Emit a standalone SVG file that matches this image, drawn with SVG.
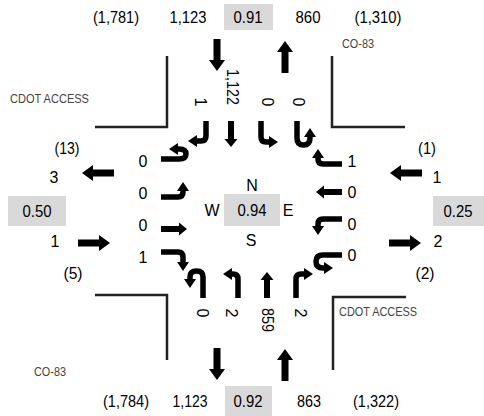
<svg xmlns="http://www.w3.org/2000/svg" width="484" height="416" viewBox="0 0 484 416">
<style>
text{font-family:"Liberation Sans",Arial,sans-serif;fill:#000}
.n{font-size:16px;text-anchor:middle}
.lbl{font-size:12px;fill:#444}
.box{fill:#d9d9d9}
.corner{fill:none;stroke:#222;stroke-width:2.5}
.turn{fill:none;stroke:#000;stroke-width:5.5;marker-end:url(#ah)}
.rot{font-size:16px;text-anchor:middle;dominant-baseline:central}
</style>
<defs>
<marker id="ah" markerUnits="userSpaceOnUse" markerWidth="9" markerHeight="12" viewBox="0 0 9 12" refX="1" refY="6" orient="auto"><path d="M0,0 L9,6 L0,12 Z" fill="#000"/></marker>
<path id="big" d="M0,-3.5 H21 V-8 L32,0 L21,8 V3.5 H0 Z" fill="#000"/>
<path id="sm" d="M0,-3 H18 V-6.5 L26,0 L18,6.5 V3 H0 Z" fill="#000"/>
</defs>

<g id="corners">
<path class="corner" d="M167,56 V127 H95"/>
<path class="corner" d="M332,56 V127 H405"/>
<path class="corner" d="M95,295 H167 V360"/>
<path class="corner" d="M333,370 V297 H406"/>
</g>

<g id="street-labels">
<text class="lbl" x="10" y="103" textLength="79" lengthAdjust="spacingAndGlyphs">CDOT ACCESS</text>
<text class="lbl" x="342" y="48" textLength="32" lengthAdjust="spacingAndGlyphs">CO-83</text>
<text class="lbl" x="339" y="316" textLength="78" lengthAdjust="spacingAndGlyphs">CDOT ACCESS</text>
<text class="lbl" x="34" y="376" textLength="32" lengthAdjust="spacingAndGlyphs">CO-83</text>
</g>

<g id="node-north">
<rect class="box" x="224" y="4" width="49" height="26"/>
<text class="n" x="116" y="23" textLength="46" lengthAdjust="spacingAndGlyphs">(1,781)</text>
<text class="n" x="188" y="23" textLength="37" lengthAdjust="spacingAndGlyphs">1,123</text>
<text class="n" x="248" y="23" textLength="29" lengthAdjust="spacingAndGlyphs">0.91</text>
<text class="n" x="308" y="23" textLength="25" lengthAdjust="spacingAndGlyphs">860</text>
<text class="n" x="378" y="23" textLength="47" lengthAdjust="spacingAndGlyphs">(1,310)</text>
<text class="rot" transform="rotate(90 200 102)" x="200" y="102">1</text>
<text class="rot" transform="rotate(90 232 87)" x="232" y="87" textLength="36" lengthAdjust="spacingAndGlyphs">1,122</text>
<text class="rot" transform="rotate(90 267 102)" x="267" y="102">0</text>
<text class="rot" transform="rotate(90 298 102)" x="298" y="102">0</text>
</g>

<g id="node-south">
<rect class="box" x="225" y="386" width="47" height="30"/>
<text class="n" x="126" y="407" textLength="46" lengthAdjust="spacingAndGlyphs">(1,784)</text>
<text class="n" x="190" y="407" textLength="35" lengthAdjust="spacingAndGlyphs">1,123</text>
<text class="n" x="248" y="407" textLength="29" lengthAdjust="spacingAndGlyphs">0.92</text>
<text class="n" x="309" y="407" textLength="24" lengthAdjust="spacingAndGlyphs">863</text>
<text class="n" x="376" y="407" textLength="46" lengthAdjust="spacingAndGlyphs">(1,322)</text>
<text class="rot" transform="rotate(90 202 313)" x="202" y="313">0</text>
<text class="rot" transform="rotate(90 231 313)" x="231" y="313">2</text>
<text class="rot" transform="rotate(90 267 320)" x="267" y="320" textLength="24" lengthAdjust="spacingAndGlyphs">859</text>
<text class="rot" transform="rotate(90 300 313)" x="300" y="313">2</text>
</g>

<g id="node-west">
<rect class="box" x="8" y="196" width="58" height="30"/>
<text class="n" x="67" y="154" textLength="25" lengthAdjust="spacingAndGlyphs">(13)</text>
<text class="n" x="54" y="183">3</text>
<text class="n" x="37" y="217" textLength="29" lengthAdjust="spacingAndGlyphs">0.50</text>
<text class="n" x="55" y="247">1</text>
<text class="n" x="73" y="279" textLength="19" lengthAdjust="spacingAndGlyphs">(5)</text>
<text class="n" x="143" y="167">0</text>
<text class="n" x="143" y="199">0</text>
<text class="n" x="143" y="231">0</text>
<text class="n" x="143" y="263">1</text>
</g>

<g id="node-east">
<rect class="box" x="433" y="196" width="51" height="30"/>
<text class="n" x="427" y="154" textLength="18" lengthAdjust="spacingAndGlyphs">(1)</text>
<text class="n" x="437" y="183">1</text>
<text class="n" x="458" y="217" textLength="29" lengthAdjust="spacingAndGlyphs">0.25</text>
<text class="n" x="438" y="247">2</text>
<text class="n" x="425" y="279" textLength="19" lengthAdjust="spacingAndGlyphs">(2)</text>
<text class="n" x="352" y="167">1</text>
<text class="n" x="352" y="198">0</text>
<text class="n" x="352" y="230">0</text>
<text class="n" x="352" y="261">0</text>
</g>

<g id="node-center">
<rect class="box" x="224" y="194" width="56" height="32"/>
<text class="n" x="252" y="191">N</text>
<text class="n" x="212" y="216">W</text>
<text class="n" x="252" y="216" textLength="29" lengthAdjust="spacingAndGlyphs">0.94</text>
<text class="n" x="288" y="216">E</text>
<text class="n" x="251" y="246">S</text>
</g>

<g id="connectors">
<use href="#big" transform="translate(217,39) rotate(90)"/>
<use href="#big" transform="translate(285,73) rotate(-90)"/>
<use href="#big" transform="translate(114,173) rotate(180)"/>
<use href="#big" transform="translate(78,243)"/>
<use href="#big" transform="translate(422,173) rotate(180)"/>
<use href="#big" transform="translate(389,243)"/>
<use href="#big" transform="translate(217,348) rotate(90)"/>
<use href="#big" transform="translate(285,381) rotate(-90)"/>
<path class="turn" d="M161,159 H179 Q186,159 186,154 Q186,149 179,149 H177"/>
<path class="turn" d="M161,197 H178 Q183,197 183,192 V190"/>
<use href="#sm" transform="translate(161,229)"/>
<path class="turn" d="M161,252 H178 Q183,252 183,257 V263"/>
<path class="turn" d="M206,121 V136 Q206,141 201,141 H196"/>
<use href="#sm" transform="translate(231,121) rotate(90)"/>
<path class="turn" d="M261,121 V137 Q261,142 266,142 H270"/>
<path class="turn" d="M297,121 V138 Q297,145 303.5,145 Q310,145 310,138 V136"/>
<path class="turn" d="M342,164 H323 Q318,164 318,159 V157"/>
<use href="#sm" transform="translate(342,192) rotate(180)"/>
<path class="turn" d="M342,219 H323 Q318,219 318,224 V227"/>
<path class="turn" d="M342,255 H323 Q316,255 316,261.5 Q316,268 323,268 H325"/>
<path class="turn" d="M203,298 V277 Q203,271 196.5,271 Q190,271 190,277 V280"/>
<path class="turn" d="M238,298 V279 Q238,274 233,274 H231"/>
<use href="#sm" transform="translate(267,298) rotate(-90)"/>
<path class="turn" d="M296,298 V279 Q296,274 301,274 H305"/>
</g>
</svg>
